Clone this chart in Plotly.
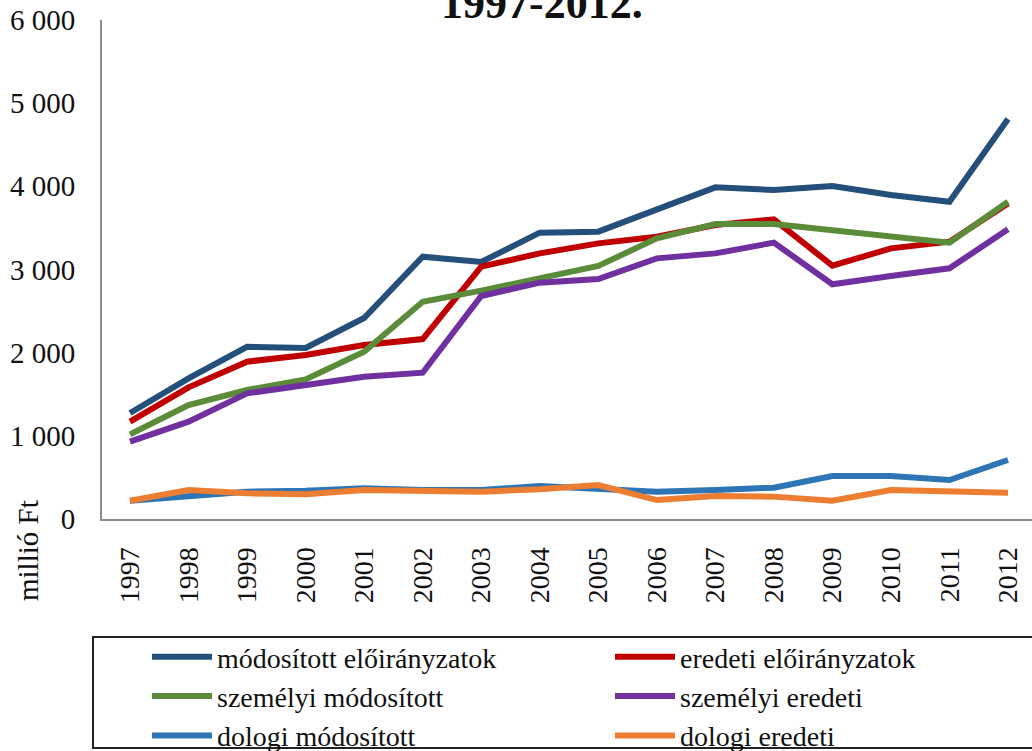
import plotly.graph_objects as go

# Years on the category axis
years = [str(y) for y in range(1997, 2013)]

# Appropriations, million Ft
modositott_eloiranyzatok = [1275, 1690, 2070, 2056, 2417, 3154, 3090, 3443, 3455, 3723, 3988, 3956, 4004, 3896, 3815, 4810]
eredeti_eloiranyzatok = [1170, 1583, 1892, 1972, 2092, 2164, 3034, 3194, 3314, 3394, 3535, 3603, 3046, 3254, 3334, 3795]
szemelyi_modositott = [1018, 1371, 1551, 1679, 2012, 2613, 2746, 2886, 3042, 3375, 3547, 3547, 3475, 3395, 3323, 3815]
szemelyi_eredeti = [930, 1170, 1511, 1611, 1711, 1759, 2681, 2842, 2886, 3134, 3194, 3323, 2822, 2922, 3014, 3483]
dologi_modositott = [220, 269, 329, 341, 369, 349, 349, 397, 369, 329, 349, 377, 517, 517, 469, 709]
dologi_eredeti = [220, 349, 309, 297, 349, 341, 329, 357, 409, 228, 277, 269, 220, 349, 329, 317]

series_names = [
    "módosított előirányzatok",
    "eredeti előirányzatok",
    "személyi módosított",
    "személyi eredeti",
    "dologi módosított",
    "dologi eredeti",
]
series_values = [
    modositott_eloiranyzatok,
    eredeti_eloiranyzatok,
    szemelyi_modositott,
    szemelyi_eredeti,
    dologi_modositott,
    dologi_eredeti,
]
series_colors = ["#234f7a", "#c00000", "#5b8c3a", "#7030a0", "#2e75b6", "#ed7d31"]

y_tick_values = [0, 1000, 2000, 3000, 4000, 5000, 6000]
y_tick_labels = ["0", "1 000", "2 000", "3 000", "4 000", "5 000", "6 000"]

FONT = "Liberation Serif, Times New Roman, serif"

fig = go.Figure()
for name, vals, col in zip(series_names, series_values, series_colors):
    fig.add_trace(go.Scatter(
        x=list(range(len(years))), y=vals, name=name, mode="lines",
        line=dict(color=col, width=6),
    ))

W, H = 1032, 751
L, R, T, B = 102, 0, 20, 232
pw = W - L - R
ph = H - T - B

# x index 0 sits 28 px right of the y axis; about 58.5 px per year
unit = (1008 - 130) / 15
x0 = -(130 - L) / unit
x1 = x0 + pw / unit

def px_x(p):
    return (p - L) / pw

def px_y(p):
    return (H - B - p) / ph

fig.update_layout(
    width=W, height=H,
    margin=dict(l=L, r=R, t=T, b=B, pad=0, autoexpand=False),
    paper_bgcolor="white", plot_bgcolor="white",
    font=dict(family=FONT, size=29, color="#111111"),
    showlegend=True,
    legend=dict(
        orientation="h",
        x=px_x(147), y=px_y(632), xanchor="left", yanchor="top",
        xref="paper", yref="paper",
        itemwidth=60,
        entrywidth=388,
        font=dict(family=FONT, size=28, color="#111111"),
        bgcolor="rgba(0,0,0,0)",
        borderwidth=0,
        tracegroupgap=0,
    ),
    xaxis=dict(
        range=[x0, x1],
        tickmode="array",
        tickvals=list(range(len(years))),
        ticktext=years,
        tickangle=-90,
        showgrid=False, zeroline=False,
        showline=True, linecolor="#8c8c8c", linewidth=2,
        ticks="", ticklabelstandoff=15,
        tickfont=dict(family=FONT, size=28, color="#111111"),
    ),
    yaxis=dict(
        range=[0, 6000],
        tickmode="array",
        tickvals=y_tick_values,
        ticktext=y_tick_labels,
        showgrid=False, zeroline=False,
        showline=True, linecolor="#8c8c8c", linewidth=2,
        ticks="", ticklabelstandoff=19,
        tickfont=dict(family=FONT, size=29, color="#111111"),
    ),
)

# Chart title (its upper part runs past the top of the canvas)
fig.add_annotation(
    text="<b>1997-2012.</b>", xref="paper", yref="paper",
    x=px_x(542), y=px_y(20), xanchor="center", yanchor="bottom",
    yshift=-10, showarrow=False,
    font=dict(family=FONT, size=44, color="#111111"),
)

# Unit label
fig.add_annotation(
    text="millió Ft", xref="paper", yref="paper",
    x=px_x(28), y=px_y(551), xanchor="center", yanchor="middle",
    textangle=-90, showarrow=False,
    font=dict(family=FONT, size=29, color="#111111"),
)

# Frame around the legend
fig.add_shape(
    type="rect", xref="paper", yref="paper",
    x0=px_x(93), x1=px_x(1045), y0=px_y(637), y1=px_y(748),
    line=dict(color="#222222", width=2), fillcolor="rgba(0,0,0,0)",
)

fig.write_html("out.html")
